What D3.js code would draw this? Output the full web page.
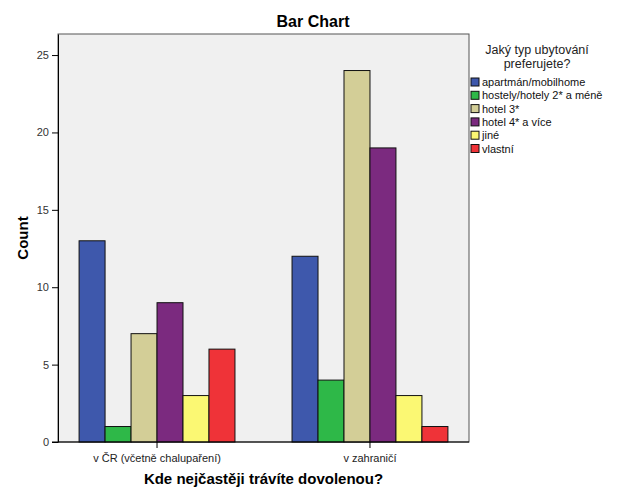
<!DOCTYPE html>
<html><head><meta charset="utf-8">
<script src="https://cdn.jsdelivr.net/npm/d3@7"></script>
<style>body{margin:0;background:#fff;} text{font-family:Arial,"Liberation Sans",sans-serif;}</style>
</head><body>
<svg id="c" width="626" height="501"></svg>
<script>
const categories = ["v ČR (včetně chalupaření)", "v zahraničí"];
const seriesNames = ["apartmán/mobilhome", "hostely/hotely 2* a méně", "hotel 3*", "hotel 4* a více", "jiné", "vlastní"];
const seriesColors = ["#3E58AC", "#2EB848", "#D3CE97", "#7B2A7F", "#FBF873", "#EF3338"];
const valuesCR = [13, 1, 7, 9, 3, 6];
const valuesAbroad = [12, 4, 24, 19, 3, 1];
const yTicks = [0, 5, 10, 15, 20, 25];

const values = [valuesCR, valuesAbroad];
const svg = d3.select("#c");
const L = 58, R = 469, T = 34, B = 442;

svg.append("rect").attr("x", L).attr("y", T).attr("width", R - L).attr("height", B - T)
  .attr("fill", "#F0F0F0").attr("stroke", "#555").attr("stroke-width", 1);

const x0 = d3.scaleBand().domain(categories).range([L, R]).paddingInner(0.268).paddingOuter(0.099);
const x1 = d3.scaleBand().domain(seriesNames).range([0, x0.bandwidth()]).padding(0);
const y = d3.scaleLinear().domain([0, 26.36]).range([B, T]);

categories.forEach((c, ci) => {
  svg.append("g").selectAll("rect").data(seriesNames).join("rect")
    .attr("x", s => x0(c) + x1(s))
    .attr("y", (s, i) => y(values[ci][i]))
    .attr("width", x1.bandwidth())
    .attr("height", (s, i) => B - y(values[ci][i]))
    .attr("fill", (s, i) => seriesColors[i])
    .attr("stroke", "#111").attr("stroke-width", 1);
});

// y axis
const ya = svg.append("g").attr("transform", `translate(${L},0)`)
  .call(d3.axisLeft(y).tickValues(yTicks).tickSize(6).tickSizeOuter(0));
ya.select(".domain").attr("stroke", "#000");
ya.selectAll("text").attr("font-size", "11px").attr("fill", "#333").attr("font-family", "Arial, 'Liberation Sans', sans-serif");
ya.selectAll("line").attr("stroke", "#000");

// x axis
const xa = svg.append("g").attr("transform", `translate(0,${B})`)
  .call(d3.axisBottom(x0).tickSize(6).tickSizeOuter(0));
xa.select(".domain").attr("stroke", "#000").attr("d", `M${L - 6},0H${R}`);
xa.selectAll("text").attr("font-size", "11px").attr("fill", "#222").attr("dy", "1.0em").attr("font-family", "Arial, 'Liberation Sans', sans-serif");
xa.selectAll("line").attr("stroke", "#000");

// titles
svg.append("text").attr("x", 313).attr("y", 27).attr("text-anchor", "middle")
  .attr("font-size", "16px").attr("font-weight", "bold").text("Bar Chart");
svg.append("text").attr("transform", "translate(28,238) rotate(-90)").attr("text-anchor", "middle")
  .attr("font-size", "15px").attr("font-weight", "bold").text("Count");
svg.append("text").attr("x", (L + R) / 2).attr("y", 484).attr("text-anchor", "middle")
  .attr("font-size", "15px").attr("font-weight", "bold").text("Kde nejčastěji trávíte dovolenou?");

// legend
const lg = svg.append("g");
lg.append("text").attr("x", 537).attr("y", 54).attr("text-anchor", "middle").attr("font-size", "12.5px").attr("fill", "#222").text("Jaký typ ubytování");
lg.append("text").attr("x", 537).attr("y", 68).attr("text-anchor", "middle").attr("font-size", "12.5px").attr("fill", "#222").text("preferujete?");
seriesNames.forEach((s, i) => {
  const yy = 78 + i * 13.3;
  lg.append("rect").attr("x", 471).attr("y", yy).attr("width", 8).attr("height", 8)
    .attr("fill", seriesColors[i]).attr("stroke", "#111").attr("stroke-width", 1);
  lg.append("text").attr("x", 482).attr("y", yy + 8).attr("font-size", "11px").attr("fill", "#111").text(s);
});
</script>
</body></html>
